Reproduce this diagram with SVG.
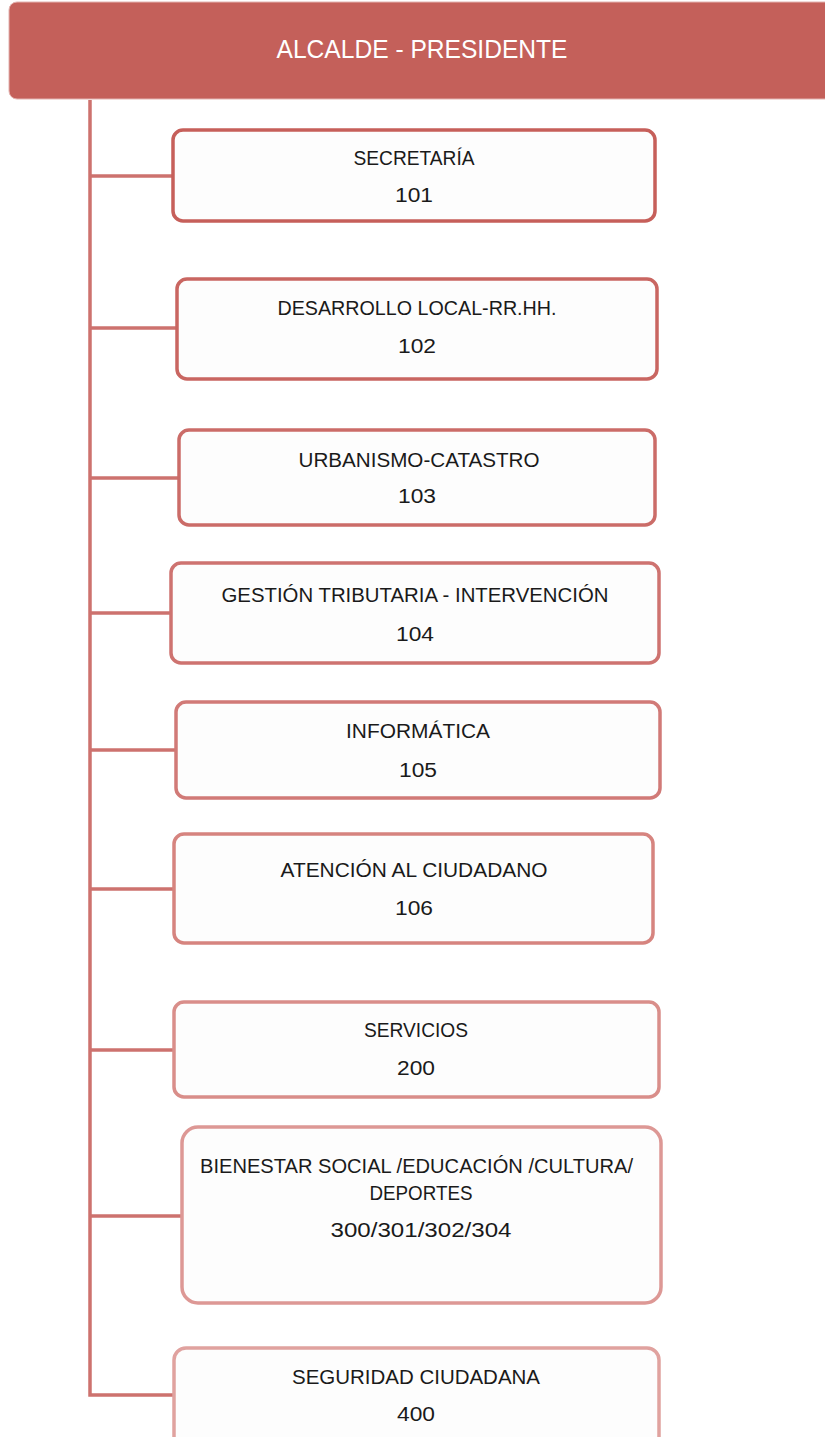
<svg xmlns="http://www.w3.org/2000/svg" width="825" height="1437" viewBox="0 0 825 1437">
<style>
.box{fill:#fdfdfd;stroke-width:3.5}
.t{font-family:"Liberation Sans",Arial,sans-serif;font-size:20.5px;fill:#1a1a1a;text-anchor:middle}
.h{font-family:"Liberation Sans",Arial,sans-serif;font-size:25px;fill:#ffffff;text-anchor:middle}
.c{stroke:#cd726e;stroke-width:3.5;fill:none}
</style>
<rect width="825" height="1437" fill="#ffffff"/>
<g id="alcalde">
<rect x="9" y="2" width="830" height="97" rx="8" fill="#c4605a" stroke="#e3b3b0" stroke-width="1"/>
<text class="h" x="422" y="58" textLength="291" lengthAdjust="spacingAndGlyphs">ALCALDE - PRESIDENTE</text>
</g>
<g id="connectors">
<path class="c" d="M90,100 V1395 H174"/>
<path class="c" d="M90,176 H173"/>
<path class="c" d="M90,328 H177"/>
<path class="c" d="M90,478 H179"/>
<path class="c" d="M90,613 H171"/>
<path class="c" d="M90,750 H176"/>
<path class="c" d="M90,889 H174"/>
<path class="c" d="M90,1050 H174"/>
<path class="c" d="M90,1216 H182"/>
</g>
<g id="n101">
<rect class="box" x="173" y="130" width="482" height="91" rx="10" stroke="#c65f5a"/>
<text class="t" x="414" y="165" textLength="121" lengthAdjust="spacingAndGlyphs">SECRETARÍA</text>
<text class="t" x="414" y="202" textLength="38" lengthAdjust="spacingAndGlyphs">101</text>
</g>
<g id="n102">
<rect class="box" x="177" y="279" width="480" height="100" rx="10" stroke="#c96661"/>
<text class="t" x="417" y="315" textLength="279" lengthAdjust="spacingAndGlyphs">DESARROLLO LOCAL-RR.HH.</text>
<text class="t" x="417" y="353" textLength="38" lengthAdjust="spacingAndGlyphs">102</text>
</g>
<g id="n103">
<rect class="box" x="179" y="430" width="476" height="95" rx="10" stroke="#cb6c68"/>
<text class="t" x="419" y="467" textLength="241" lengthAdjust="spacingAndGlyphs">URBANISMO-CATASTRO</text>
<text class="t" x="417" y="503" textLength="38" lengthAdjust="spacingAndGlyphs">103</text>
</g>
<g id="n104">
<rect class="box" x="171" y="563" width="488" height="100" rx="10" stroke="#ce7370"/>
<text class="t" x="415" y="602" textLength="387" lengthAdjust="spacingAndGlyphs">GESTIÓN TRIBUTARIA - INTERVENCIÓN</text>
<text class="t" x="415" y="641" textLength="38" lengthAdjust="spacingAndGlyphs">104</text>
</g>
<g id="n105">
<rect class="box" x="176" y="702" width="484" height="96" rx="10" stroke="#d17a77"/>
<text class="t" x="418" y="738" textLength="144" lengthAdjust="spacingAndGlyphs">INFORMÁTICA</text>
<text class="t" x="418" y="777" textLength="38" lengthAdjust="spacingAndGlyphs">105</text>
</g>
<g id="n106">
<rect class="box" x="174" y="834" width="479" height="109" rx="10" stroke="#d6847f"/>
<text class="t" x="414" y="877" textLength="267" lengthAdjust="spacingAndGlyphs">ATENCIÓN AL CIUDADANO</text>
<text class="t" x="414" y="915" textLength="38" lengthAdjust="spacingAndGlyphs">106</text>
</g>
<g id="n200">
<rect class="box" x="174" y="1002" width="485" height="95" rx="10" stroke="#d98e8a"/>
<text class="t" x="416" y="1037" textLength="104" lengthAdjust="spacingAndGlyphs">SERVICIOS</text>
<text class="t" x="416" y="1075" textLength="38" lengthAdjust="spacingAndGlyphs">200</text>
</g>
<g id="n300">
<rect class="box" x="182" y="1127" width="479" height="176" rx="16" stroke="#dd9895"/>
<text class="t" x="416.5" y="1173" textLength="433" lengthAdjust="spacingAndGlyphs">BIENESTAR SOCIAL /EDUCACIÓN /CULTURA/</text>
<text class="t" x="421" y="1200" textLength="103" lengthAdjust="spacingAndGlyphs">DEPORTES</text>
<text class="t" x="421" y="1237" textLength="181" lengthAdjust="spacingAndGlyphs">300/301/302/304</text>
</g>
<g id="n400">
<rect class="box" x="174" y="1348" width="485" height="110" rx="12" stroke="#e0a29f"/>
<text class="t" x="416" y="1384" textLength="248" lengthAdjust="spacingAndGlyphs">SEGURIDAD CIUDADANA</text>
<text class="t" x="416" y="1421" textLength="38" lengthAdjust="spacingAndGlyphs">400</text>
</g>
</svg>
